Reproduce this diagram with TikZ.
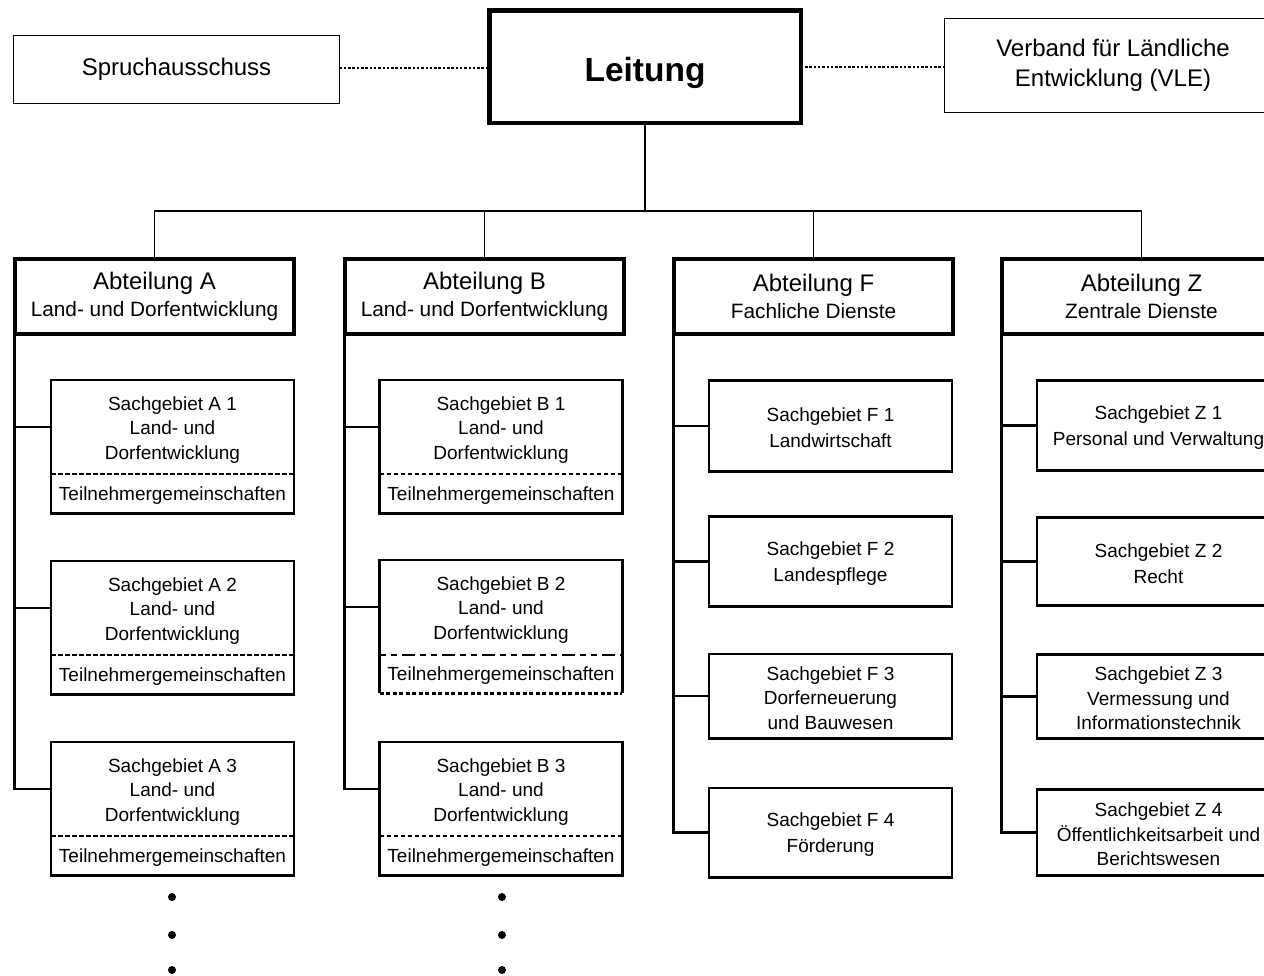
\documentclass[tikz,border=0pt]{standalone}
\usepackage{fontspec}
\setmainfont{Liberation Sans}
\usetikzlibrary{calc}
\tikzset{
  every node/.style={inner sep=0pt, outer sep=0pt},
  topbox/.style={draw, line width=1.3pt, align=center, font=\fontsize{24}{30}\selectfont},
  leitbox/.style={draw, line width=4.5pt},
  leittxt/.style={font=\bfseries\fontsize{33.5}{40}\selectfont},
  abtbox/.style={draw, line width=3.6pt, minimum width=279.5pt, minimum height=74.5pt, align=center, font=\fontsize{20.8}{27}\selectfont},
  sachbox/.style={draw, line width=2.6pt, minimum width=242.7pt},
  stxt/.style={align=center, font=\fontsize{19}{24.5}\selectfont},
  stxttwo/.style={align=center, font=\fontsize{19}{26}\selectfont},
  conn/.style={line width=1.3pt},
  trunk/.style={line width=2.8pt},
  dotlink/.style={line width=2.6pt, dash pattern=on 2.5pt off 1.8pt},
  divider/.style={line width=2pt, dash pattern=on 4.5pt off 2.5pt},
  dotnode/.style={circle, fill=black, minimum size=8pt},
}
\newcommand\sgdiv[5][]{%
  \node[sachbox, minimum height=133.4pt, anchor=north, #1] (#2) at (#3,#4) {};
  \node[stxt] (#2t) at ($(#2.north)+(0,50)$) {Sachgebiet #5\\Land- und\\Dorfentwicklung};
  \node[stxt] (#2u) at ($(#2.north)+(0,116)$) {Teilnehmergemeinschaften};
  \coordinate (#2c) at ($(#2.north west)+(0,47)$);
}
\newcommand\sgbox[5]{%
  \node[sachbox, minimum height=#4] (#1) at (#2,#3) {};
  \node[stxttwo] (#1t) at ($(#1.center)+(0,2)$) {#5};
}
\newcommand\sgboxthree[5]{%
  \node[sachbox, minimum height=#4] (#1) at (#2,#3) {};
  \node[stxt] (#1t) at ($(#1.center)+(0,2)$) {#5};
}
\begin{document}
\begin{tikzpicture}[x=1pt,y=-1pt]
\useasboundingbox (0,0) rectangle (1264,975);
\fill[white] (0,0) rectangle (1264,975);

% top row
\node[topbox, minimum width=326pt, minimum height=68pt] (spr) at (176.5,69.5) {\raisebox{0pt}{Spruchausschuss}};
\node[leitbox, minimum width=311.5pt, minimum height=112.5pt] (leit) at (645,66.5) {};
\node[leittxt] (leitt) at (645,73) {Leitung};
\node[topbox, minimum width=337pt, minimum height=94pt] (vle) at (1113,65.5) {Verband für Ländliche\\Entwicklung (VLE)};
\draw[dotlink] (spr.east |- 0,68) -- (leit.west |- 0,68);
\draw[dotlink] (leit.east |- 0,67) -- (vle.west |- 0,67);

% Abteilungen
\node[abtbox] (abtA) at (154.5,296.5) {{\fontsize{24}{27}\selectfont Abteilung A}\\Land- und Dorfentwicklung};
\node[abtbox] (abtB) at (484.5,296.5) {{\fontsize{24}{27}\selectfont Abteilung B}\\Land- und Dorfentwicklung};
\node[abtbox] (abtF) at (813.5,296.5) {{\fontsize{24}{27}\selectfont Abteilung F}\\Fachliche Dienste};
\node[abtbox] (abtZ) at (1141.5,296.5) {{\fontsize{24}{27}\selectfont Abteilung Z}\\Zentrale Dienste};

\coordinate (bar) at (644,211);
\draw[conn] (leit.south) -- (leit.south |- bar);
\draw[conn] (abtA.north) -- (abtA.north |- bar) -- (abtZ.north |- bar) -- (abtZ.north);
\draw[conn] (abtB.north) -- (abtB.north |- bar);
\draw[conn] (abtF.north) -- (abtF.north |- bar);

% column A
\sgdiv{A1}{172.5}{380}{A 1}
\sgdiv{A2}{172.5}{561}{A 2}
\sgdiv{A3}{172.5}{742}{A 3}
\foreach \n in {A1,A2,A3}{
  \draw[divider] ($(\n.north west)+(0,94)$) -- ($(\n.north east)+(0,94)$);
}
\draw[trunk] (abtA.south west) |- (A3c);
\draw[trunk] (abtA.south west |- A1c) -- (A1c);
\draw[trunk] (abtA.south west |- A2c) -- (A2c);

% column B
\sgdiv{B1}{501}{380}{B 1}
\sgdiv[draw=none]{B2}{501}{560}{B 2}
\sgdiv{B3}{501}{742}{B 3}
\draw[divider] ($(B1.north west)+(0,94)$) -- ($(B1.north east)+(0,94)$);
\draw[divider] ($(B3.north west)+(0,94)$) -- ($(B3.north east)+(0,94)$);
\draw[line width=2.6pt] (B2.south west) -- (B2.north west) -- (B2.north east) -- (B2.south east);
\draw[line width=2.2pt, dash pattern=on 4pt off 2.5pt] (B2.south west) -- (B2.south east);
\draw[line width=2.2pt, dash pattern=on 6pt off 5pt on 6pt off 5pt on 13pt off 5pt] ($(B2.north west)+(0,95)$) -- ($(B2.north east)+(0,95)$);
\draw[trunk] (abtB.south west) |- (B3c);
\draw[trunk] (abtB.south west |- B1c) -- (B1c);
\draw[trunk] (abtB.south west |- B2c) -- (B2c);

% column F
\sgbox{F1}{830.5}{426}{91.4pt}{Sachgebiet F 1\\Landwirtschaft}
\sgbox{F2}{830.5}{561.5}{90.4pt}{Sachgebiet F 2\\Landespflege}
\sgboxthree{F3}{830.5}{696}{84.4pt}{Sachgebiet F 3\\Dorferneuerung\\und Bauwesen}
\sgbox{F4}{830.5}{832.5}{89.4pt}{Sachgebiet F 4\\Förderung}
\draw[trunk] (abtF.south west) |- (F4.west);
\draw[trunk] (abtF.south west |- F1.west) -- (F1.west);
\draw[trunk] (abtF.south west |- F2.west) -- (F2.west);
\draw[trunk] (abtF.south west |- F3.west) -- (F3.west);

% column Z
\sgbox{Z1}{1158.5}{425.5}{90.4pt}{Sachgebiet Z 1\\Personal und Verwaltung}
\sgbox{Z2}{1158.5}{561.5}{88.4pt}{Sachgebiet Z 2\\Recht}
\sgboxthree{Z3}{1158.5}{696.5}{84.4pt}{Sachgebiet Z 3\\Vermessung und\\Informationstechnik}
\sgboxthree{Z4}{1158.5}{832.5}{86.4pt}{Sachgebiet Z 4\\Öffentlichkeitsarbeit und\\Berichtswesen}
\draw[trunk] (abtZ.south west) |- (Z4.west);
\draw[trunk] (abtZ.south west |- Z1.west) -- (Z1.west);
\draw[trunk] (abtZ.south west |- Z2.west) -- (Z2.west);
\draw[trunk] (abtZ.south west |- Z3.west) -- (Z3.west);

% continuation dots
\node[dotnode] (dA1) at (172,897) {};
\node[dotnode] (dA2) at (172,935) {};
\node[dotnode] (dA3) at (172,970) {};
\node[dotnode] (dB1) at (502,897) {};
\node[dotnode] (dB2) at (502,935) {};
\node[dotnode] (dB3) at (502,970) {};
\end{tikzpicture}
\end{document}
